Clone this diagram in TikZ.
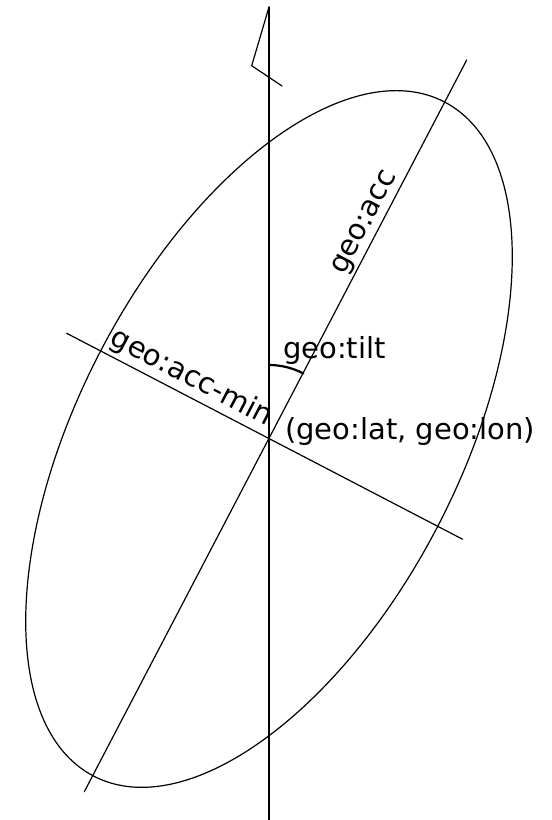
\documentclass[tikz,border=0pt]{standalone}
\usepackage{fontspec}
\setmainfont{DejaVu Sans}

\begin{document}
\begin{tikzpicture}[x=1pt,y=-1pt,line cap=round,line join=round,
    axisline/.style={line width=1.2pt},
    lbl/.style={font=\fontsize{29}{34}\selectfont,inner sep=0pt}]
  \useasboundingbox (0,0) rectangle (552,820);
  \coordinate (O) at (269,439);
  \coordinate (nTop) at (269,7); \coordinate (vBot) at (269,820);
  \coordinate (nMid) at (251.7,65.7); \coordinate (nEnd) at (282,86);
  \coordinate (majTop) at (466.7,60); \coordinate (majBot) at (84.3,791.7);
  \coordinate (minL) at (66.7,333.3); \coordinate (minR) at (462.7,539.3);
  % north marker and axes
  \draw[axisline] (nTop)--(vBot);
  \draw[axisline] (nTop)--(nMid)--(nEnd);
  \draw[axisline] (majTop)--(majBot);
  \draw[axisline] (minL)--(minR);
  \draw[axisline,rotate around={-27.5:(O)}] (O) ellipse [x radius=190,y radius=380];
  \draw[line width=2.2pt] (269,365) arc[start angle=-90,end angle=-62.4,radius=74];
  \node[lbl,rotate=62.4] (acc) at (365.8,223.3) {geo:acc};
  \node[lbl,rotate=-27.5] (accmin) at (191.7,378) {geo:acc-min};
  \node[lbl,anchor=base west] (tilt) at (283,358.5) {geo:tilt};
  \node[lbl,anchor=base west] (pos) at (285,439) {(geo:lat, geo:lon)};
\end{tikzpicture}
\end{document}
